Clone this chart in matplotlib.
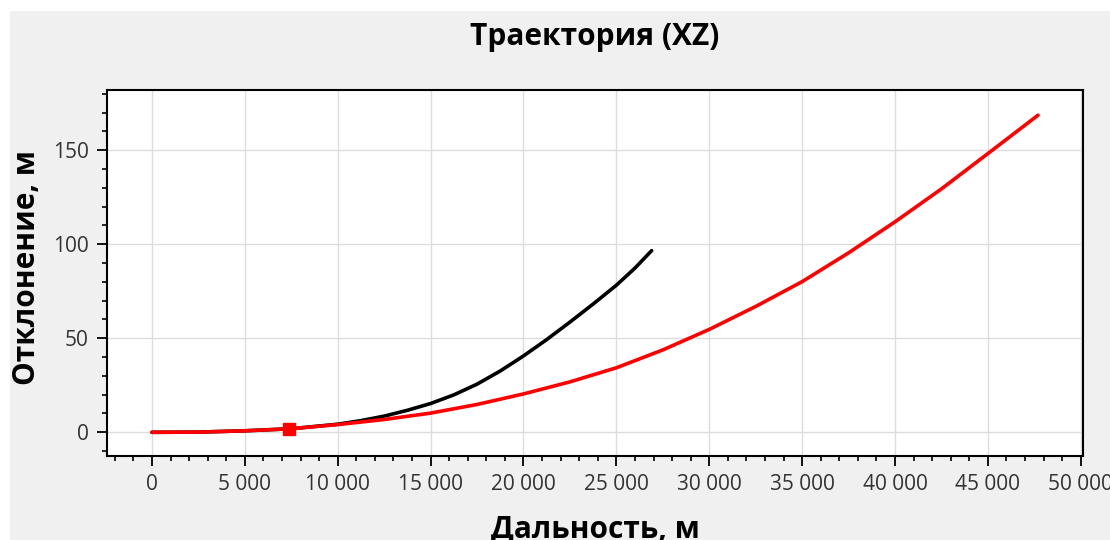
import matplotlib
matplotlib.use("Agg")
import matplotlib.pyplot as plt
from matplotlib.patches import Rectangle
from matplotlib.ticker import MultipleLocator, FuncFormatter

# Trajectory data, XZ plane
range_red = [0, 2500, 5000, 7500, 10000, 12500, 15000, 17500, 20000, 22500,
             25000, 27500, 30000, 32500, 35000, 37500, 40000, 42500, 45000, 47700]
dev_red = [0.0, 0.1, 0.8, 1.9, 4.1, 6.8, 10.2, 14.8, 20.4, 26.8,
           34.3, 43.8, 54.7, 66.9, 80.1, 95.4, 111.9, 129.4, 148.2, 168.6]

range_black = [0, 2500, 5000, 7500, 10000, 11250, 12500, 13750, 15000, 16250,
               17500, 18750, 20000, 21250, 22500, 23750, 25000, 26000, 26900]
dev_black = [0.0, 0.1, 0.8, 1.9, 4.3, 6.2, 8.6, 11.7, 15.3, 19.9,
             25.6, 32.6, 40.6, 49.3, 58.6, 68.2, 78.2, 87.3, 96.6]

marker_x = [7400]
marker_y = [1.5]

title = "Траектория (XZ)"
xlabel = "Дальность, м"
ylabel = "Отклонение, м"

plt.rcParams['font.family'] = ['Open Sans', 'DejaVu Sans']

W, H = 1110, 540
fig = plt.figure(figsize=(W / 100, H / 100), dpi=100, facecolor="white")
fig.patches.append(Rectangle((10 / W, 0), 1, 1 - 11 / H, transform=fig.transFigure,
                             facecolor="#f0f0f0", edgecolor="none", zorder=-10))

ax = fig.add_axes([107 / W, 1 - 456 / H, (1083 - 107) / W, (456 - 90) / H])
ax.set_facecolor("white")

ax.plot(range_black, dev_black, color="black", lw=2.6, solid_capstyle="round",
        solid_joinstyle="round", zorder=3)
ax.plot(range_red, dev_red, color="#ff0000", lw=2.6, solid_capstyle="round",
        solid_joinstyle="round", zorder=4)
ax.plot(marker_x, marker_y, marker="s", color="#ff0000", markersize=8, ls="none", zorder=5)

ax.set_xlim(-2420, 50120)
ax.set_ylim(-12.6, 182)

ax.xaxis.set_major_locator(MultipleLocator(5000))
ax.xaxis.set_minor_locator(MultipleLocator(1000))
ax.yaxis.set_major_locator(MultipleLocator(50))
ax.yaxis.set_minor_locator(MultipleLocator(10))
ax.xaxis.set_major_formatter(FuncFormatter(lambda v, p: f"{int(round(v)):,}".replace(",", " ")))
ax.yaxis.set_major_formatter(FuncFormatter(lambda v, p: f"{int(round(v))}"))

ax.grid(True, which="major", color="#dcdcdc", lw=1.0)
ax.set_axisbelow(True)

for s in ax.spines.values():
    s.set_linewidth(1.5)
    s.set_color("black")

ax.tick_params(which="major", direction="out", length=7, width=1.3, color="black",
               labelsize=15, labelcolor="#333333", pad=6)
ax.tick_params(which="minor", direction="out", length=3.5, width=1.2, color="black")

fig.text(595 / W, 1 - 45 / H, title, ha="center", va="baseline",
         fontsize=21.5, fontweight="bold", color="black")
fig.text(595 / W, 1 - 538 / H, xlabel, ha="center", va="baseline",
         fontsize=21.5, fontweight="bold", color="black")
fig.text(27.5 / W, 1 - 268 / H, ylabel, ha="center", va="center", rotation=90,
         fontsize=21.5, fontweight="bold", color="black")

fig.savefig("out.png", dpi=100, facecolor=fig.get_facecolor())
